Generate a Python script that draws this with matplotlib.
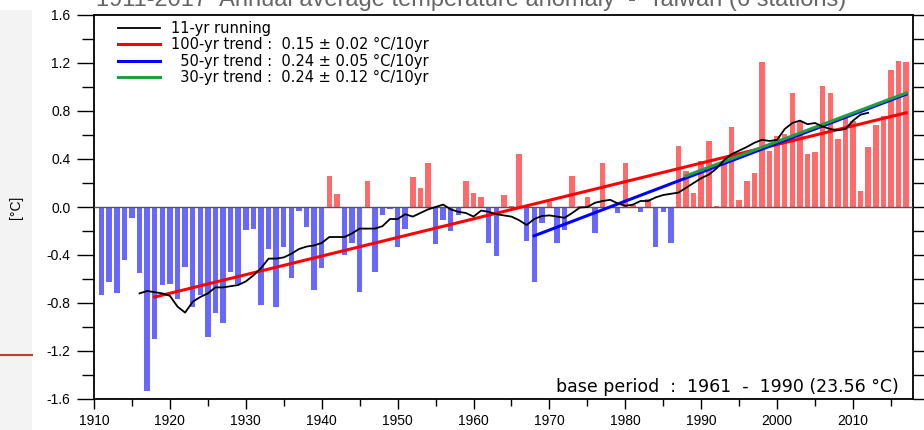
import numpy as np
import matplotlib.pyplot as plt
from matplotlib.patches import Rectangle
from matplotlib.lines import Line2D
from matplotlib.ticker import MultipleLocator, FormatStrFormatter

plt.rcParams['font.family'] = ['Liberation Sans', 'DejaVu Sans']
plt.rcParams['axes.unicode_minus'] = False

# anomalia anual (°C) 1911-2017
anos = np.arange(1911, 2018)
anomalia = [
    -0.73, -0.625, -0.72, -0.44, -0.09, -0.55, -1.53, -1.10, -0.65, -0.64,   # 1911-1920
    -0.77, -0.50, -0.83, -0.73, -1.08, -0.88, -0.97, -0.54, -0.64, -0.19,    # 1921-1930
    -0.18, -0.82, -0.35, -0.83, -0.33, -0.59, -0.03, -0.17, -0.69, -0.51,    # 1931-1940
    0.26, 0.11, -0.40, -0.30, -0.71, 0.22, -0.54, -0.07, -0.02, -0.33,       # 1941-1950
    -0.18, 0.25, 0.16, 0.37, -0.31, -0.11, -0.20, -0.07, 0.22, 0.12,         # 1951-1960
    0.08, -0.30, -0.41, 0.10, 0.01, 0.44, -0.28, -0.625, -0.13, 0.04,        # 1961-1970
    -0.30, -0.19, 0.26, 0.01, 0.08, -0.22, 0.37, 0.01, -0.05, 0.37,          # 1971-1980
    0.02, -0.04, 0.07, -0.33, -0.04, -0.30, 0.51, 0.30, 0.12, 0.38,          # 1981-1990
    0.55, 0.01, 0.36, 0.67, 0.06, 0.22, 0.28, 1.21, 0.47, 0.59,              # 1991-2000
    0.61, 0.95, 0.72, 0.44, 0.46, 1.01, 0.95, 0.57, 0.75, 0.72,              # 2001-2010
    0.13, 0.50, 0.685, 0.76, 1.14, 1.22, 1.21,                               # 2011-2017
]

anos_media = np.arange(1916, 2013)
media_11 = [
    -0.72, -0.70, -0.71, -0.72, -0.74,                                       # 1916-1920
    -0.83, -0.88, -0.79, -0.75, -0.72, -0.67, -0.67, -0.66, -0.65, -0.62,    # 1921-1930
    -0.57, -0.51, -0.43, -0.43, -0.42, -0.39, -0.35, -0.33, -0.32, -0.30,    # 1931-1940
    -0.25, -0.25, -0.25, -0.22, -0.18, -0.18, -0.18, -0.16, -0.10, -0.10,    # 1941-1950
    -0.06, -0.08, -0.05, -0.02, 0.00, 0.02, -0.02, -0.04, -0.05, -0.08,      # 1951-1960
    -0.03, -0.04, -0.06, -0.07, -0.08, -0.11, -0.15, -0.10, -0.075, -0.07,   # 1961-1970
    -0.08, -0.09, -0.05, -0.005, 0.00, 0.035, 0.05, 0.06, 0.03, 0.01,        # 1971-1980
    0.02, 0.05, 0.05, 0.08, 0.10, 0.11, 0.12, 0.16, 0.20, 0.24,              # 1981-1990
    0.27, 0.32, 0.39, 0.44, 0.47, 0.50, 0.535, 0.56, 0.55, 0.56,             # 1991-2000
    0.65, 0.70, 0.72, 0.69, 0.70, 0.67, 0.65, 0.64, 0.65, 0.72,              # 2001-2010
    0.77, 0.785,                                                             # 2011-2012
]

# retas de tendência (início e fim)
anos_100 = [1918, 2017]
tend_100 = [-0.75, 0.785]
anos_50 = [1968, 2017]
tend_50 = [-0.24, 0.94]
anos_30 = [1988, 2017]
tend_30 = [0.26, 0.95]

rotulos = ['11-yr running',
           '100-yr trend :  0.15 \u00b1 0.02 \u00b0C/10yr',
           '  50-yr trend :  0.24 \u00b1 0.05 \u00b0C/10yr',
           '  30-yr trend :  0.24 \u00b1 0.12 \u00b0C/10yr']

fig = plt.figure(figsize=(9.24, 4.30), dpi=100)

# faixa cinza do lado esquerdo (resto da captura de tela)
fig.patches.append(Rectangle((0, 0), 32 / 924, 1 - 10 / 430, transform=fig.transFigure,
                             facecolor='#f3f3f3', edgecolor='none', zorder=0))
fig.lines.append(Line2D([0, 32 / 924], [1 - 355 / 430] * 2, transform=fig.transFigure,
                        color='#b5432f', lw=1.5))

ax = fig.add_axes([94 / 924, 1 - 399 / 430, 819 / 924, 384 / 430])

cores = ['#ff6b6b' if v > 0 else '#6868ff' for v in anomalia]
ax.bar(anos, anomalia, width=0.72, color=cores, zorder=2)
ax.axhline(0, color='#555555', lw=1, zorder=3)

ax.plot(anos_100, tend_100, color='#ff0000', lw=2.2, zorder=4)
ax.plot(anos_50, tend_50, color='#0000ff', lw=2.2, zorder=4)
ax.plot(anos_30, tend_30, color='#20a040', lw=2.2, zorder=4)
ax.plot(anos_media, media_11, color='black', lw=1.3, zorder=5)

ax.set_xlim(1910, 2017.9)
ax.set_ylim(-1.6, 1.6)
ax.xaxis.set_major_locator(MultipleLocator(10))
ax.xaxis.set_minor_locator(MultipleLocator(5))
ax.yaxis.set_major_locator(MultipleLocator(0.4))
ax.yaxis.set_minor_locator(MultipleLocator(0.2))
ax.yaxis.set_major_formatter(FormatStrFormatter('%.1f'))

ax.tick_params(axis='y', which='major', direction='out', length=12, width=1, labelsize=10,
               pad=5, right=True)
ax.tick_params(axis='y', which='minor', direction='out', length=8.5, width=1, right=True)
ax.tick_params(axis='x', which='major', direction='out', length=7, width=1, labelsize=10, pad=4)
ax.tick_params(axis='x', which='minor', direction='out', length=5, width=1)
for s in ax.spines.values():
    s.set_linewidth(1.3)

leg_handles = [Line2D([], [], color='black', lw=1.3),
               Line2D([], [], color='#ff0000', lw=2.2),
               Line2D([], [], color='#0000ff', lw=2.2),
               Line2D([], [], color='#20a040', lw=2.2)]
ax.legend(leg_handles, rotulos, loc='upper left', bbox_to_anchor=(0.029, 0.985),
          frameon=False, prop={'family': 'DejaVu Sans', 'size': 10.5},
          handlelength=2.9, handletextpad=0.75, labelspacing=0.1,
          borderpad=0, borderaxespad=0)

ax.text(0.982, 0.031, 'base period  :  1961  -  1990 (23.56 \u00b0C)', transform=ax.transAxes,
        ha='right', va='center', fontsize=12.5, family='DejaVu Sans')

fig.text(16 / 924, 1 - 207 / 430, '[\u00b0C]', rotation=90, ha='center', va='center', fontsize=10)

# título cortado no topo da imagem
fig.text(471 / 924, 1 - 6 / 430,
         '1911-2017  Annual average temperature anomaly  -  Taiwan (6 stations)',
         ha='center', va='baseline', fontsize=17, color='#666666')

fig.savefig('out.png', dpi=100)
